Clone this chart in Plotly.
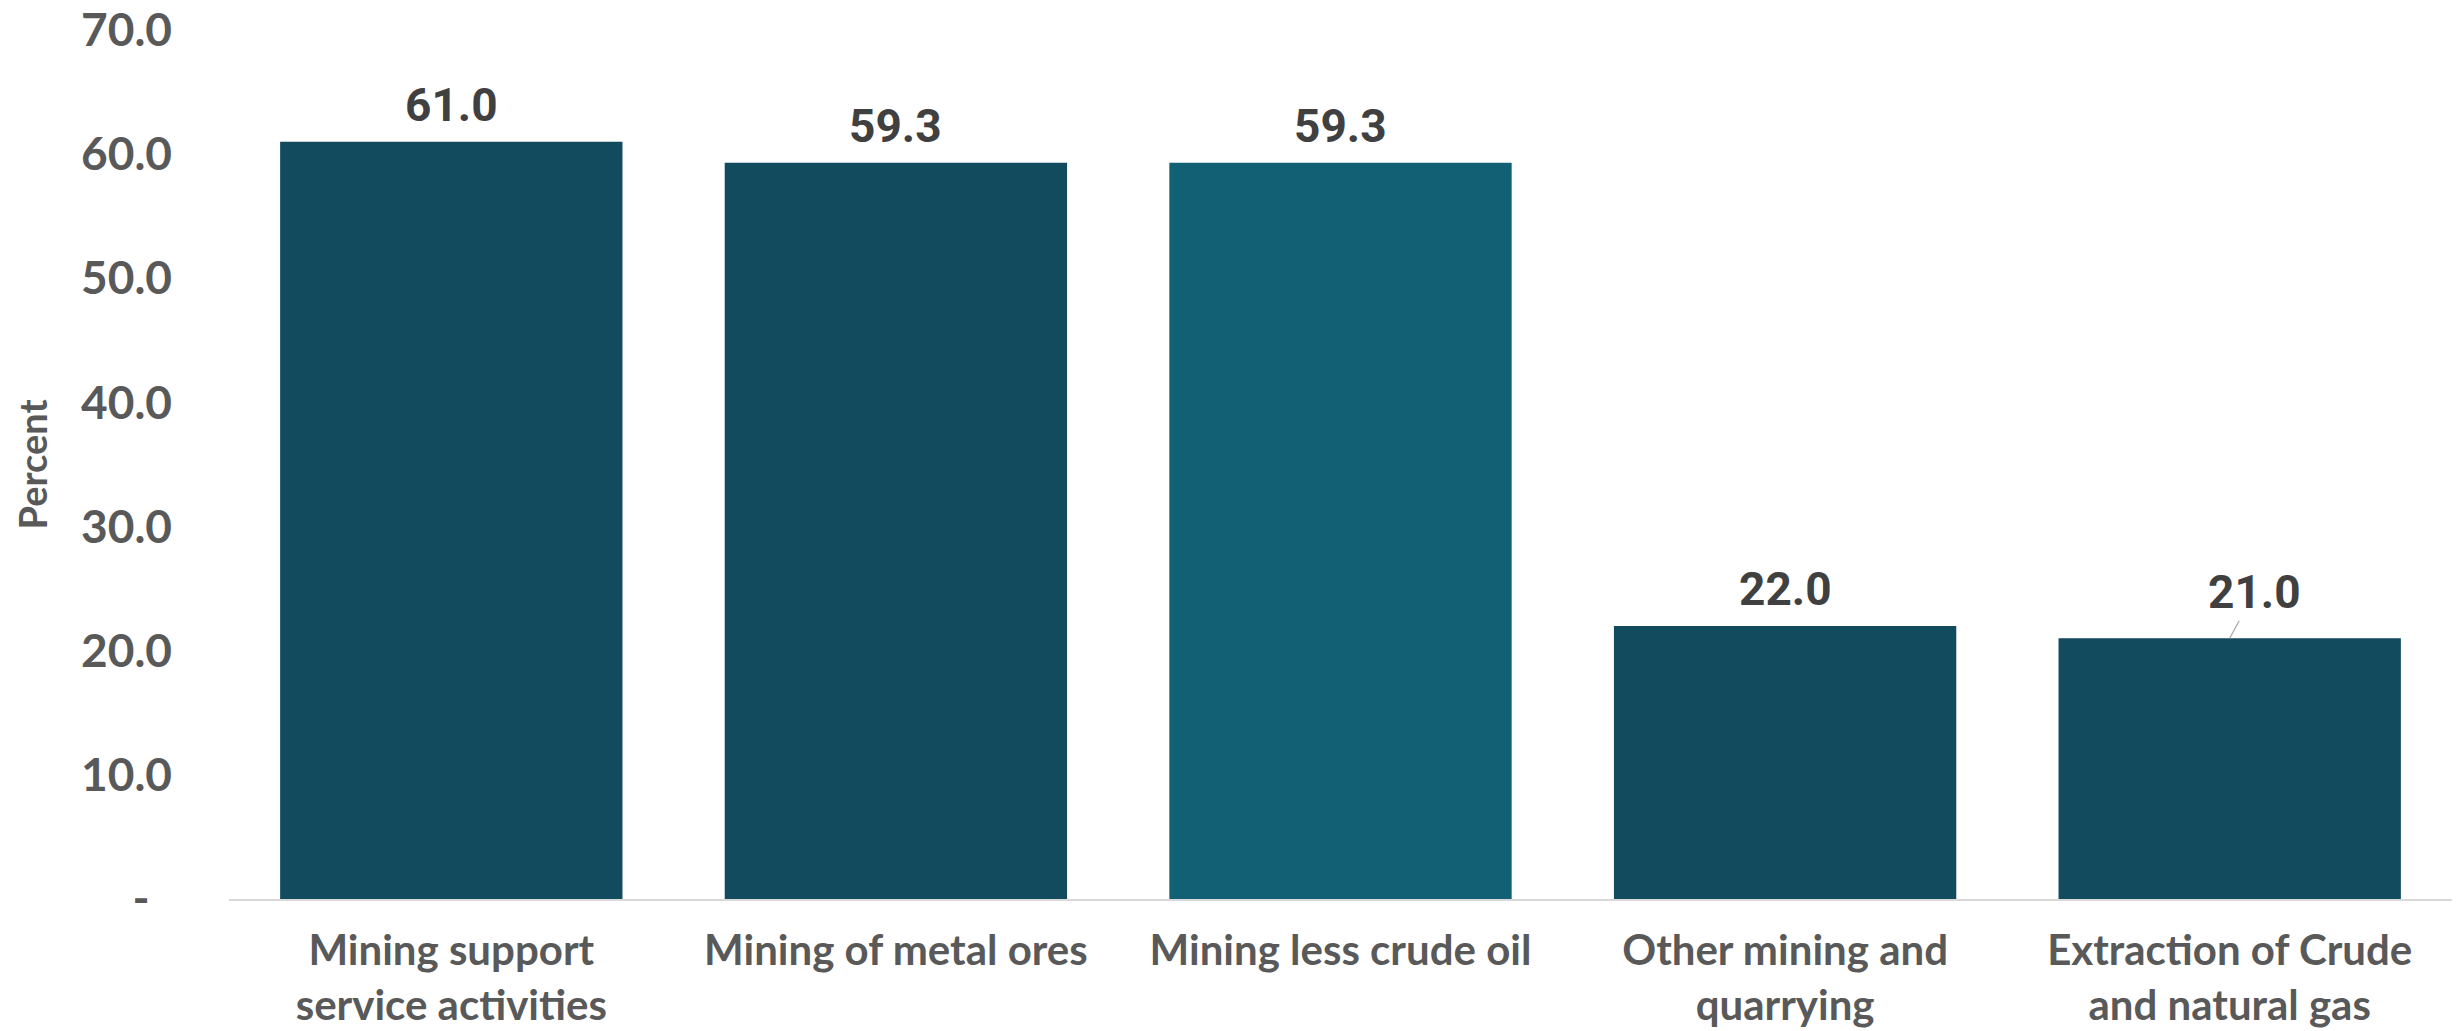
import plotly.graph_objects as go

# Share of industry output, by mining sub-sector
categories = [
    "Mining support<br>service activities",
    "Mining of metal ores",
    "Mining less crude oil",
    "Other mining and<br>quarrying",
    "Extraction of Crude<br>and natural gas",
]
values = [61.0, 59.3, 59.3, 22.0, 21.0]
bar_colors = ["#124a5e", "#124a5e", "#126074", "#124a5e", "#124a5e"]

tick_vals = [0, 10, 20, 30, 40, 50, 60, 70]
tick_text = ["-\u00a0\u00a0", "10.0", "20.0", "30.0", "40.0", "50.0", "60.0", "70.0"]

fig = go.Figure(
    go.Bar(
        x=categories,
        y=values,
        marker=dict(color=bar_colors, line=dict(width=0)),
        hoverinfo="skip",
    )
)

# Value labels above each bar; the last one sits off to the side with a leader line
for i, (cat, val) in enumerate(zip(categories, values)):
    leader = i == len(values) - 1
    fig.add_annotation(
        x=cat,
        y=val,
        text=f"<b>{val:.1f}</b>",
        font=dict(family="Roboto, Lato, sans-serif", size=46, color="#404040"),
        showarrow=leader,
        arrowhead=0,
        arrowwidth=1.2,
        arrowcolor="#a6a6a6",
        ax=25 if leader else 0,
        ay=-46 if leader else 0,
        yanchor="middle" if leader else "bottom",
        yshift=0 if leader else 8,
    )

# Vertical axis title
fig.add_annotation(
    xref="paper",
    yref="paper",
    x=0,
    y=0.5,
    xshift=-198,
    xanchor="center",
    yanchor="middle",
    textangle=-90,
    showarrow=False,
    text="<b>Percent</b>",
    font=dict(family="Lato, sans-serif", size=38, color="#595959"),
)

fig.update_layout(
    width=2458,
    height=1031,
    margin=dict(l=229, r=6, t=30, b=132),
    paper_bgcolor="white",
    plot_bgcolor="white",
    bargap=0.23,
    showlegend=False,
    font=dict(family="Lato, sans-serif", color="#595959"),
)

fig.update_xaxes(
    automargin=False,
    showgrid=False,
    showline=True,
    linecolor="#d9d9d9",
    linewidth=2,
    ticks="",
    ticklabelstandoff=14,
    tickfont=dict(family="Lato, sans-serif", size=42, color="#595959", weight="bold"),
)

fig.update_yaxes(
    automargin=False,
    range=[0, 70],
    tickvals=tick_vals,
    ticktext=tick_text,
    showgrid=False,
    zeroline=False,
    showline=False,
    ticks="",
    ticklabelstandoff=56,
    tickfont=dict(family="Lato, sans-serif", size=46, color="#595959", weight="bold"),
)

fig.write_html("out.html")
